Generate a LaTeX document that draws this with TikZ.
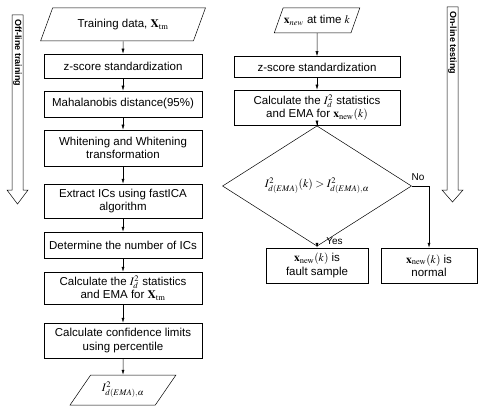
\documentclass[tikz,border=0pt]{standalone}
\usepackage{mathptmx}
\usepackage{fontspec}
\setmainfont{Liberation Sans}
\usetikzlibrary{shapes.geometric,arrows.meta}
\begin{document}
\begin{tikzpicture}[x=1pt,y=-1pt,line width=0.5pt,
  font=\fontsize{11.5}{13.5}\selectfont,
  lbox/.style={draw,rectangle,align=center,minimum width=158pt,inner sep=1pt},
  rbox/.style={draw,rectangle,align=center,minimum width=166pt,inner sep=1pt},
  io/.style={draw,trapezium,trapezium stretches=true,trapezium left angle=#1,
    trapezium right angle=180-#1,inner sep=1pt,align=center},
  decision/.style={draw,diamond,inner sep=0pt},
  result/.style={draw,rectangle,align=center,minimum height=35pt,inner sep=1pt},
  flow/.style={-{Latex[length=5pt,width=3pt]}},
  answer/.style={font=\fontsize{10}{12}\selectfont,inner sep=1pt},
  phase/.style={font=\fontsize{9}{10}\selectfont\bfseries,inner sep=1pt}]
\useasboundingbox (0,0) rectangle (478,406);
% off-line training
\node[io=58,minimum width=165pt,minimum height=33pt] (train) at (123,24.5) {Training data, $\mathbf{X}_{\mathrm{tm}}$};
\node[lbox,minimum height=24pt] (zs1) at (123,66) {z-score standardization};
\node[lbox,minimum height=26pt] (maha) at (123,104) {Mahalanobis distance(95\%)};
\node[lbox,minimum height=36pt] (white) at (123,148) {Whitening and Whitening\\transformation};
\node[lbox,minimum height=34pt] (ica) at (123,201) {Extract ICs using fastICA\\algorithm};
\node[lbox,minimum height=26pt] (numic) at (123,245) {Determine the number of ICs};
\node[lbox,minimum height=32pt] (stat1) at (123,288) {Calculate the $I_d^2$ statistics\\and EMA for $\mathbf{X}_{\mathrm{tm}}$};
\node[lbox,minimum height=35pt] (limit) at (123,340.5) {Calculate confidence limits\\using percentile};
\node[io=52,minimum width=106pt,minimum height=30pt] (lim) at (123,390) {$I^2_{d(EMA),\alpha}$};
\draw[flow] (train) -- (zs1);
\draw[flow] (zs1) -- (maha);
\draw[flow] (maha) -- (white);
\draw[flow] (white) -- (ica);
\draw[flow] (ica) -- (numic);
\draw[flow] (numic) -- (stat1);
\draw[flow] (stat1) -- (limit);
\draw[flow] (limit) -- (lim);
% on-line testing
\node[io=54,minimum width=86pt,minimum height=25pt] (xnew) at (317,20.5) {$\mathbf{x}_{new}$ at time $k$};
\node[rbox,minimum height=21pt] (zs2) at (317,67) {z-score standardization};
\node[rbox,minimum height=35pt] (stat2) at (317,107.5) {Calculate the $I_d^2$ statistics\\and EMA for $\mathbf{x}_{\mathrm{new}}(k)$};
\node[decision,minimum width=189pt,minimum height=92pt] (test) at (317,186) {$I^2_{d(EMA)}(k) > I^2_{d(EMA),\alpha}$};
\node[result,minimum width=102pt] (fault) at (317,265.5) {$\mathbf{x}_{\mathrm{new}}(k)$ is\\fault sample};
\node[result,minimum width=96pt] (normal) at (429,265.5) {$\mathbf{x}_{\mathrm{new}}(k)$ is\\normal};
\node[answer,anchor=west] (yes) at (325,241) {Yes};
\node[answer] (no) at (418,177) {No};
\draw[flow] (xnew) -- (zs2);
\draw[flow] (zs2) -- (stat2);
\draw[flow] (stat2) -- (test);
\draw[flow] (test) -- (fault);
\draw[flow] (test.east) -| (normal.north);
% phase arrows
\draw (12,15) -- (23,15) -- (23,190) -- (28,190) -- (17.5,204) -- (7,190) -- (12,190) -- cycle;
\node[phase,anchor=west,rotate=-90] (offline) at (17.5,18) {Off-line training};
\draw (447,7) -- (458,7) -- (458,190) -- (463,190) -- (452.5,202) -- (442,190) -- (447,190) -- cycle;
\node[phase,anchor=west,rotate=-90] (online) at (452.5,10) {On-line testing};
\end{tikzpicture}
\end{document}
